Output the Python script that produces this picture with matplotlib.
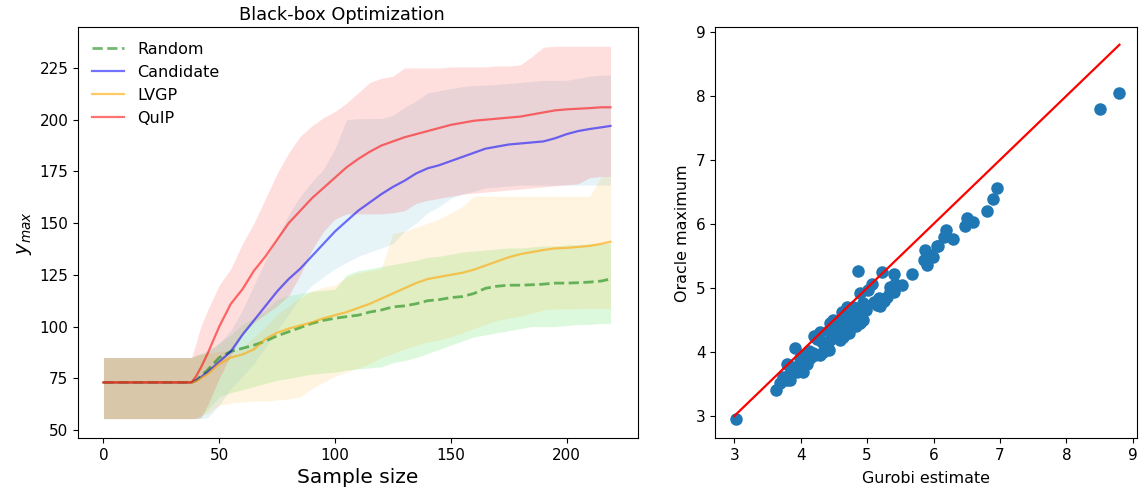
import numpy as np
import matplotlib
matplotlib.use("Agg")
import matplotlib.pyplot as plt

# --- left panel: best value found vs. number of samples ---
samples = [0, 38, 40, 42, 45, 50, 55, 60, 65, 70, 75, 80, 85, 90, 95, 100, 105, 110, 115, 120,
           125, 130, 135, 140, 145, 150, 155, 160, 165, 170, 175, 180, 185, 190, 195, 200, 205, 210, 215, 219]

random_mean = [73, 73, 74, 76, 79, 85, 88, 89.5, 91, 93, 95.5, 97.5, 99.5, 101.5, 103, 104, 104.8, 105.5, 107, 108,
               109.5, 110, 111, 112.5, 113, 114, 114.5, 116, 118.5, 119.5, 120, 120, 120.2, 120.5, 121, 121, 121.2, 121.5, 122, 123]
random_lo = [55.5, 55.5, 55.5, 56, 60, 66, 68, 69.5, 71, 72.5, 74, 75, 76, 77, 77.5, 78, 79, 79.5, 80, 80.5,
             82.5, 83.5, 85, 87, 89, 91, 93, 95, 96, 97, 98, 99, 100, 100, 100, 100.5, 101, 101, 101.5, 101.6]
random_hi = [85, 85, 86, 87, 88, 92, 96, 101, 104, 108, 113, 115, 116, 117, 117.5, 118, 125, 127, 128, 129,
             130, 131, 132, 133.5, 134, 135, 136, 136.5, 137, 137.5, 138, 138, 138.5, 139, 139, 139.5, 139.5, 140, 140, 140.2]

cand_mean = [73, 73, 74, 75.5, 78, 83, 88, 96, 103, 110, 117, 123, 128, 134, 140, 146, 151, 156, 160, 164,
             167.5, 170.5, 174, 176.5, 178, 180, 182, 184, 186, 187, 188, 188.5, 189, 189.5, 191, 193, 194.5, 195.5, 196.3, 197]
cand_lo = [55.5, 55.5, 55.5, 55.5, 56, 62, 70, 76, 82, 90, 98, 106, 114, 120, 124, 128, 131, 134, 136, 138,
           140, 146, 150, 155, 158, 162, 164, 165.5, 167, 167.5, 168, 168.4, 168.4, 168.4, 168.4, 168.4, 168.4, 168.4, 168.4, 168.4]
cand_hi = [85, 85, 86, 86.5, 88, 92, 98, 108, 120, 132, 143, 154, 163, 170, 176, 186, 200, 200.5, 200.5, 200.6,
           202, 206, 209, 213, 214, 215, 216, 216.5, 216.7, 217, 217.5, 218, 218.5, 219, 219, 219, 220, 221, 221.5, 221.6]

lvgp_mean = [73, 73, 73.5, 75, 77, 82, 85, 86.5, 89, 94, 97, 99, 100.5, 102, 104, 105.5, 107, 109, 111, 113.5,
             116, 118.5, 121, 123, 124, 125, 126, 127.5, 129.5, 131.5, 133.5, 135, 136, 137, 137.8, 138, 138.5, 139, 140, 141]
lvgp_lo = [55.5, 55.5, 56, 57, 58, 62, 63, 63.5, 64, 64, 64.5, 65, 66, 70, 73, 76, 78, 80, 82, 85,
           87, 89, 91, 92.5, 93.5, 95, 97, 99, 101, 103, 104, 105, 106.5, 108, 108.5, 108.5, 108.6, 108.7, 108.8, 108.8]
lvgp_hi = [85, 85, 86, 86.5, 87, 88, 88, 90, 95, 100, 106, 110, 114, 117, 119, 120, 124, 126, 127, 128,
           145, 146, 148, 150, 152, 155, 158, 163, 163, 163, 163, 163, 163, 163, 163, 163, 163, 163, 172.6, 172.6]

quip_mean = [73, 73, 76, 80, 87, 100, 111, 118, 127, 134, 142, 150, 156, 162, 167, 172, 177, 181, 184.5, 187.5,
             189.5, 191.5, 193, 194.5, 196, 197.5, 198.5, 199.5, 200, 200.5, 201, 201.5, 202.5, 203.5, 204.5, 205, 205.3, 205.6, 206, 206]
quip_lo = [55.5, 55.5, 55.5, 56, 62, 75, 86, 96, 102, 106, 110, 115, 125, 137, 146, 152, 154.5, 154.5, 154.5, 154.5,
           155, 156, 159.5, 161, 162, 163, 164, 164.5, 165, 165.5, 166, 166.5, 167, 167.5, 168, 168.5, 169, 172, 172.6, 172.6]
quip_hi = [85, 85, 92, 100, 108, 120, 128, 140, 150, 162, 174, 184, 192, 197, 201, 204, 208, 213, 218, 220,
           221, 225, 225, 225, 225, 225.5, 225.5, 225.5, 225.5, 226, 226, 226.5, 230.5, 235, 235.5, 235.5, 235.5, 235.5, 235.5, 235.5]

# --- right panel: Gurobi estimate vs oracle maximum ---
gurobi = [3.02, 3.63, 3.69, 3.74, 3.79, 3.84, 3.79, 3.84, 3.89, 3.91, 3.94, 3.99, 4.04, 4.04, 4.07, 4.14,
          4.19, 4.22, 4.29, 4.24, 4.29, 4.20, 4.34, 4.39, 4.42, 4.44, 4.42, 4.44, 4.49, 4.54, 4.59, 4.64,
          4.59, 4.64, 4.69, 4.74, 4.69, 4.79, 4.74, 4.84, 4.84, 4.89, 4.94, 4.99, 4.94, 4.89, 5.02, 5.07,
          4.86, 5.15, 5.20, 5.25, 5.30, 5.35, 5.40, 5.35, 5.42, 5.52, 5.22, 5.40, 5.67, 5.85, 5.90, 5.87,
          5.95, 5.99, 6.05, 6.07, 6.16, 6.19, 6.30, 6.47, 6.51, 6.60, 6.80, 6.89, 6.95, 8.50, 8.79,
          4.60, 4.55, 4.70, 4.62, 4.78, 4.50, 4.32, 4.10, 3.95, 4.00, 4.12, 4.72, 4.80, 4.88, 5.10, 5.18, 4.27, 4.65]
oracle = [2.96, 3.40, 3.51, 3.61, 3.56, 3.56, 3.82, 3.67, 3.77, 4.06, 3.69, 3.90, 3.69, 3.95, 3.85, 3.90,
          3.98, 3.95, 3.95, 4.21, 4.32, 4.25, 4.00, 4.08, 4.03, 4.19, 4.34, 4.45, 4.50, 4.34, 4.19, 4.24,
          4.45, 4.55, 4.40, 4.53, 4.71, 4.71, 4.66, 4.58, 4.40, 4.45, 4.50, 4.66, 4.76, 4.92, 4.97, 5.07,
          5.27, 4.73, 4.72, 4.79, 4.86, 4.93, 4.94, 5.02, 5.07, 5.05, 5.25, 5.22, 5.22, 5.44, 5.36, 5.60,
          5.52, 5.49, 5.65, 5.65, 5.80, 5.91, 5.77, 5.97, 6.09, 6.03, 6.20, 6.39, 6.56, 7.79, 8.04,
          4.30, 4.40, 4.48, 4.62, 4.62, 4.25, 4.15, 3.82, 3.75, 3.85, 4.02, 4.30, 4.50, 4.60, 4.78, 4.85, 4.28, 4.45]

fig = plt.figure(figsize=(11.39, 4.9), dpi=100)
ax1 = fig.add_axes([0.0685, 0.106, 0.4915, 0.838])
ax2 = fig.add_axes([0.628, 0.106, 0.37, 0.838])

# bands first, then mean lines
ax1.fill_between(samples, random_lo, random_hi, color="lightgreen", alpha=0.3, lw=0)
ax1.fill_between(samples, cand_lo, cand_hi, color="lightblue", alpha=0.3, lw=0)
ax1.fill_between(samples, lvgp_lo, lvgp_hi, color="orange", alpha=0.12, lw=0)
ax1.fill_between(samples, quip_lo, quip_hi, color="red", alpha=0.13, lw=0)

ax1.plot(samples, random_mean, "--", color="green", alpha=0.55, lw=2, label="Random")
ax1.plot(samples, cand_mean, color="blue", alpha=0.55, lw=1.6, label="Candidate")
ax1.plot(samples, lvgp_mean, color="orange", alpha=0.6, lw=1.6, label="LVGP")
ax1.plot(samples, quip_mean, color="red", alpha=0.55, lw=1.6, label="QuIP")

ax1.set_ylim(46.1, 244.6)
ax1.set_xlim(-11, 230.8)
ax1.set_title("Black-box Optimization", fontsize=12.8, x=0.471, pad=5)
ax1.set_xlabel("Sample size", fontsize=14.5)
ax1.set_ylabel("$y_{max}$", fontsize=14)
ax1.legend(loc="upper left", frameon=False, fontsize=11.5)
ax1.tick_params(labelsize=11)

ax2.scatter(gurobi, oracle, s=64, color="tab:blue")
ax2.plot([3, 8.8], [3, 8.8], color="red", lw=1.6)
ax2.set_xlim(2.714, 9.06)
ax2.set_ylim(2.656, 9.07)
ax2.set_xlabel("Gurobi estimate", fontsize=11.4, labelpad=6)
ax2.set_ylabel("Oracle maximum", fontsize=11.4)
ax2.tick_params(labelsize=11)

plt.savefig("out.png", dpi=100)
